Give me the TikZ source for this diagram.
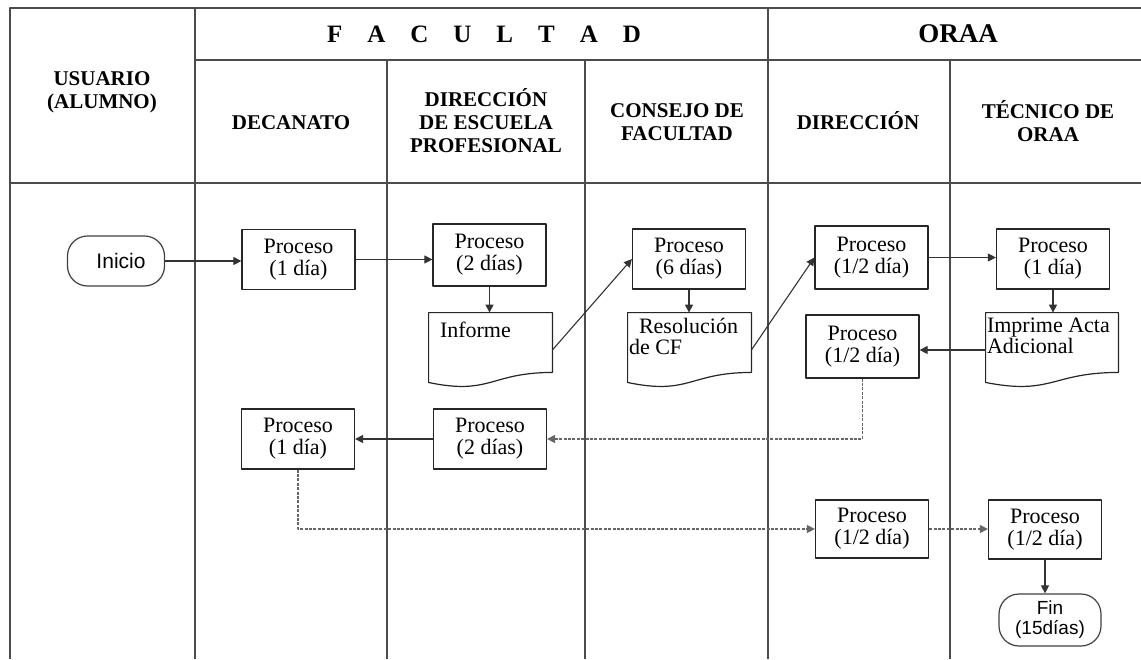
\documentclass[tikz,border=0pt]{standalone}
\usepackage{fontspec}
\setmainfont{Liberation Serif}
\newfontfamily\arialfont{Liberation Sans}
\usetikzlibrary{arrows.meta,calc}
\newcommand{\lsp}{\hspace{12.5pt}}
% document symbol: outline drawn round an empty node
\newcommand{\docoutline}[1]{%
  \draw[outline] (#1.north west) -- (#1.north east)
    -- ($(#1.north east)!0.8!(#1.south east)$)
    .. controls ($(#1.north)!0.8!(#1.south)$) and ($(#1.north)!1.108!(#1.south)$)
    .. ($(#1.north west)!0.934!(#1.south west)$) -- cycle;}
\begin{document}
\begin{tikzpicture}[x=0.5pt,y=-0.5pt,line join=bevel]
  \tikzstyle{lane}=[line width=0.9pt,draw=black!70]
  \tikzstyle{head}=[align=center,font=\bfseries\fontsize{10.5}{11.5}\selectfont]
  \tikzstyle{bighead}=[font=\bfseries\fontsize{12.5}{14}\selectfont]
  \tikzstyle{proc}=[rectangle,draw=black!85,line width=0.6pt,minimum width=56.5pt,minimum height=30pt,inner sep=0pt,align=center,font=\fontsize{11}{11}\selectfont]
  \tikzstyle{term}=[rectangle,rounded corners=10pt,draw=black!75,line width=0.6pt,minimum width=48.5pt,minimum height=25pt,inner sep=0pt,align=center,font=\arialfont\fontsize{10.5}{12}\selectfont]
  \tikzstyle{docbox}=[rectangle,minimum width=61.5pt,minimum height=37pt,inner sep=0pt]
  \tikzstyle{doctext}=[anchor=north west,inner sep=0pt,align=left,font=\fontsize{11}{10.5}\selectfont]
  \tikzstyle{outline}=[draw=black!85,line width=0.6pt]
  \tikzstyle{arrow}=[-{Triangle[length=4pt,width=4pt]},draw=black!80,line width=0.55pt]
  \tikzstyle{dotarrow}=[arrow,draw=black!60,dash pattern=on 1.5pt off 0.7pt]
  \useasboundingbox (0,0) rectangle (1141,659);

  % lanes
  \draw[lane] (10,659) -- (10,8) -- (1141,8);
  \draw[lane] (195,60) -- (1141,60);
  \draw[lane] (10,183) -- (1141,183);
  \foreach \x in {195,768} \draw[lane] (\x,8) -- (\x,659);
  \foreach \x in {387,585,950} \draw[lane] (\x,60) -- (\x,659);

  \node[head] (usuario) at (102,92) {USUARIO\\(ALUMNO)};
  \node[bighead] (facultad) at (484,34) {F\lsp A\lsp C\lsp U\lsp L\lsp T\lsp A\lsp D};
  \node[bighead,font=\bfseries\fontsize{13.5}{15}\selectfont] (oraa) at (958,34) {ORAA};
  \node[head] (decanato) at (291,123) {DECANATO};
  \node[head] (escuela) at (486,121) {DIRECCIÓN\\DE ESCUELA\\PROFESIONAL};
  \node[head] (consejo) at (677,122) {CONSEJO DE\\FACULTAD};
  \node[head] (direccion) at (858,121) {DIRECCIÓN};
  \node[head] (tecnico) at (1048,121) {TÉCNICO DE\\ORAA};

  % steps
  \node[term] (inicio) at (116,261) {\hspace*{5pt}Inicio};
  \node[proc] (P_1) at (298.5,259.5) {Proceso\\(1 día)};
  \node[proc,minimum height=31pt] (P_2) at (489.5,255) {Proceso\\(2 días)};
  \node[proc] (P_3) at (689,259) {Proceso\\(6 días)};
  \node[proc,minimum height=31.5pt] (P_4) at (871.5,257.5) {Proceso\\(1/2 día)};
  \node[proc] (P_5) at (1053,259) {Proceso\\(1 día)};
  \node[proc,minimum height=31.5pt] (P_6) at (862.5,346.5) {Proceso\\(1/2 día)};
  \node[proc] (P_7) at (490,439) {Proceso\\(2 días)};
  \node[proc] (P_8) at (298,439) {Proceso\\(1 día)};
  \node[proc,minimum height=29pt] (P_9) at (872,529) {Proceso\\(1/2 día)};
  \node[proc,minimum height=29.5pt] (P_10) at (1045,529.5) {Proceso\\(1/2 día)};
  \node[term,minimum width=51pt,minimum height=26pt,font=\arialfont\fontsize{9.5}{10}\selectfont] (fin) at (1050,620) {Fin\\(15días)};

  % documents
  \node[docbox] (D_1) at (490.5,350) {};
  \docoutline{D_1}
  \node[doctext] (T_1) at ([shift={(11,9)}]D_1.north west) {Informe};
  \node[docbox] (D_2) at (689.5,350) {};
  \docoutline{D_2}
  \node[doctext] (T_2) at ([shift={(1,5)}]D_2.north west) {\hspace*{5pt}Resolución\\de CF};
  \node[docbox,minimum width=66pt] (D_3) at (1052,350) {};
  \docoutline{D_3}
  \node[doctext] (T_3) at ([shift={(1,5)}]D_3.north west) {Imprime Acta\\Adicional};

  % flow
  \draw[arrow] (inicio.east) -- (inicio.east -| P_1.west);
  \draw[arrow] (P_1.east) -- (P_1.east -| P_2.west);
  \draw[arrow] (P_2.south) -- (P_2.south |- D_1.north);
  \draw[arrow] (D_1.east) -- (P_3.west);
  \draw[arrow] (P_3.south) -- (P_3.south |- D_2.north);
  \draw[arrow] (D_2.east) -- (P_4.west);
  \draw[arrow] (P_4.east) -- (P_4.east -| P_5.west);
  \draw[arrow] (P_5.south) -- (P_5.south |- D_3.north);
  \draw[arrow] (D_3.west) -- (D_3.west -| P_6.east);
  \draw[dotarrow] (P_6.south) |- (P_7.east);
  \draw[arrow] (P_7.west) -- (P_7.west -| P_8.east);
  \draw[dotarrow] (P_8.south) |- (P_9.west);
  \draw[dotarrow] (P_9.east) -- (P_9.east -| P_10.west);
  \draw[arrow] (P_10.south) -- (P_10.south |- fin.north);
\end{tikzpicture}
\end{document}
